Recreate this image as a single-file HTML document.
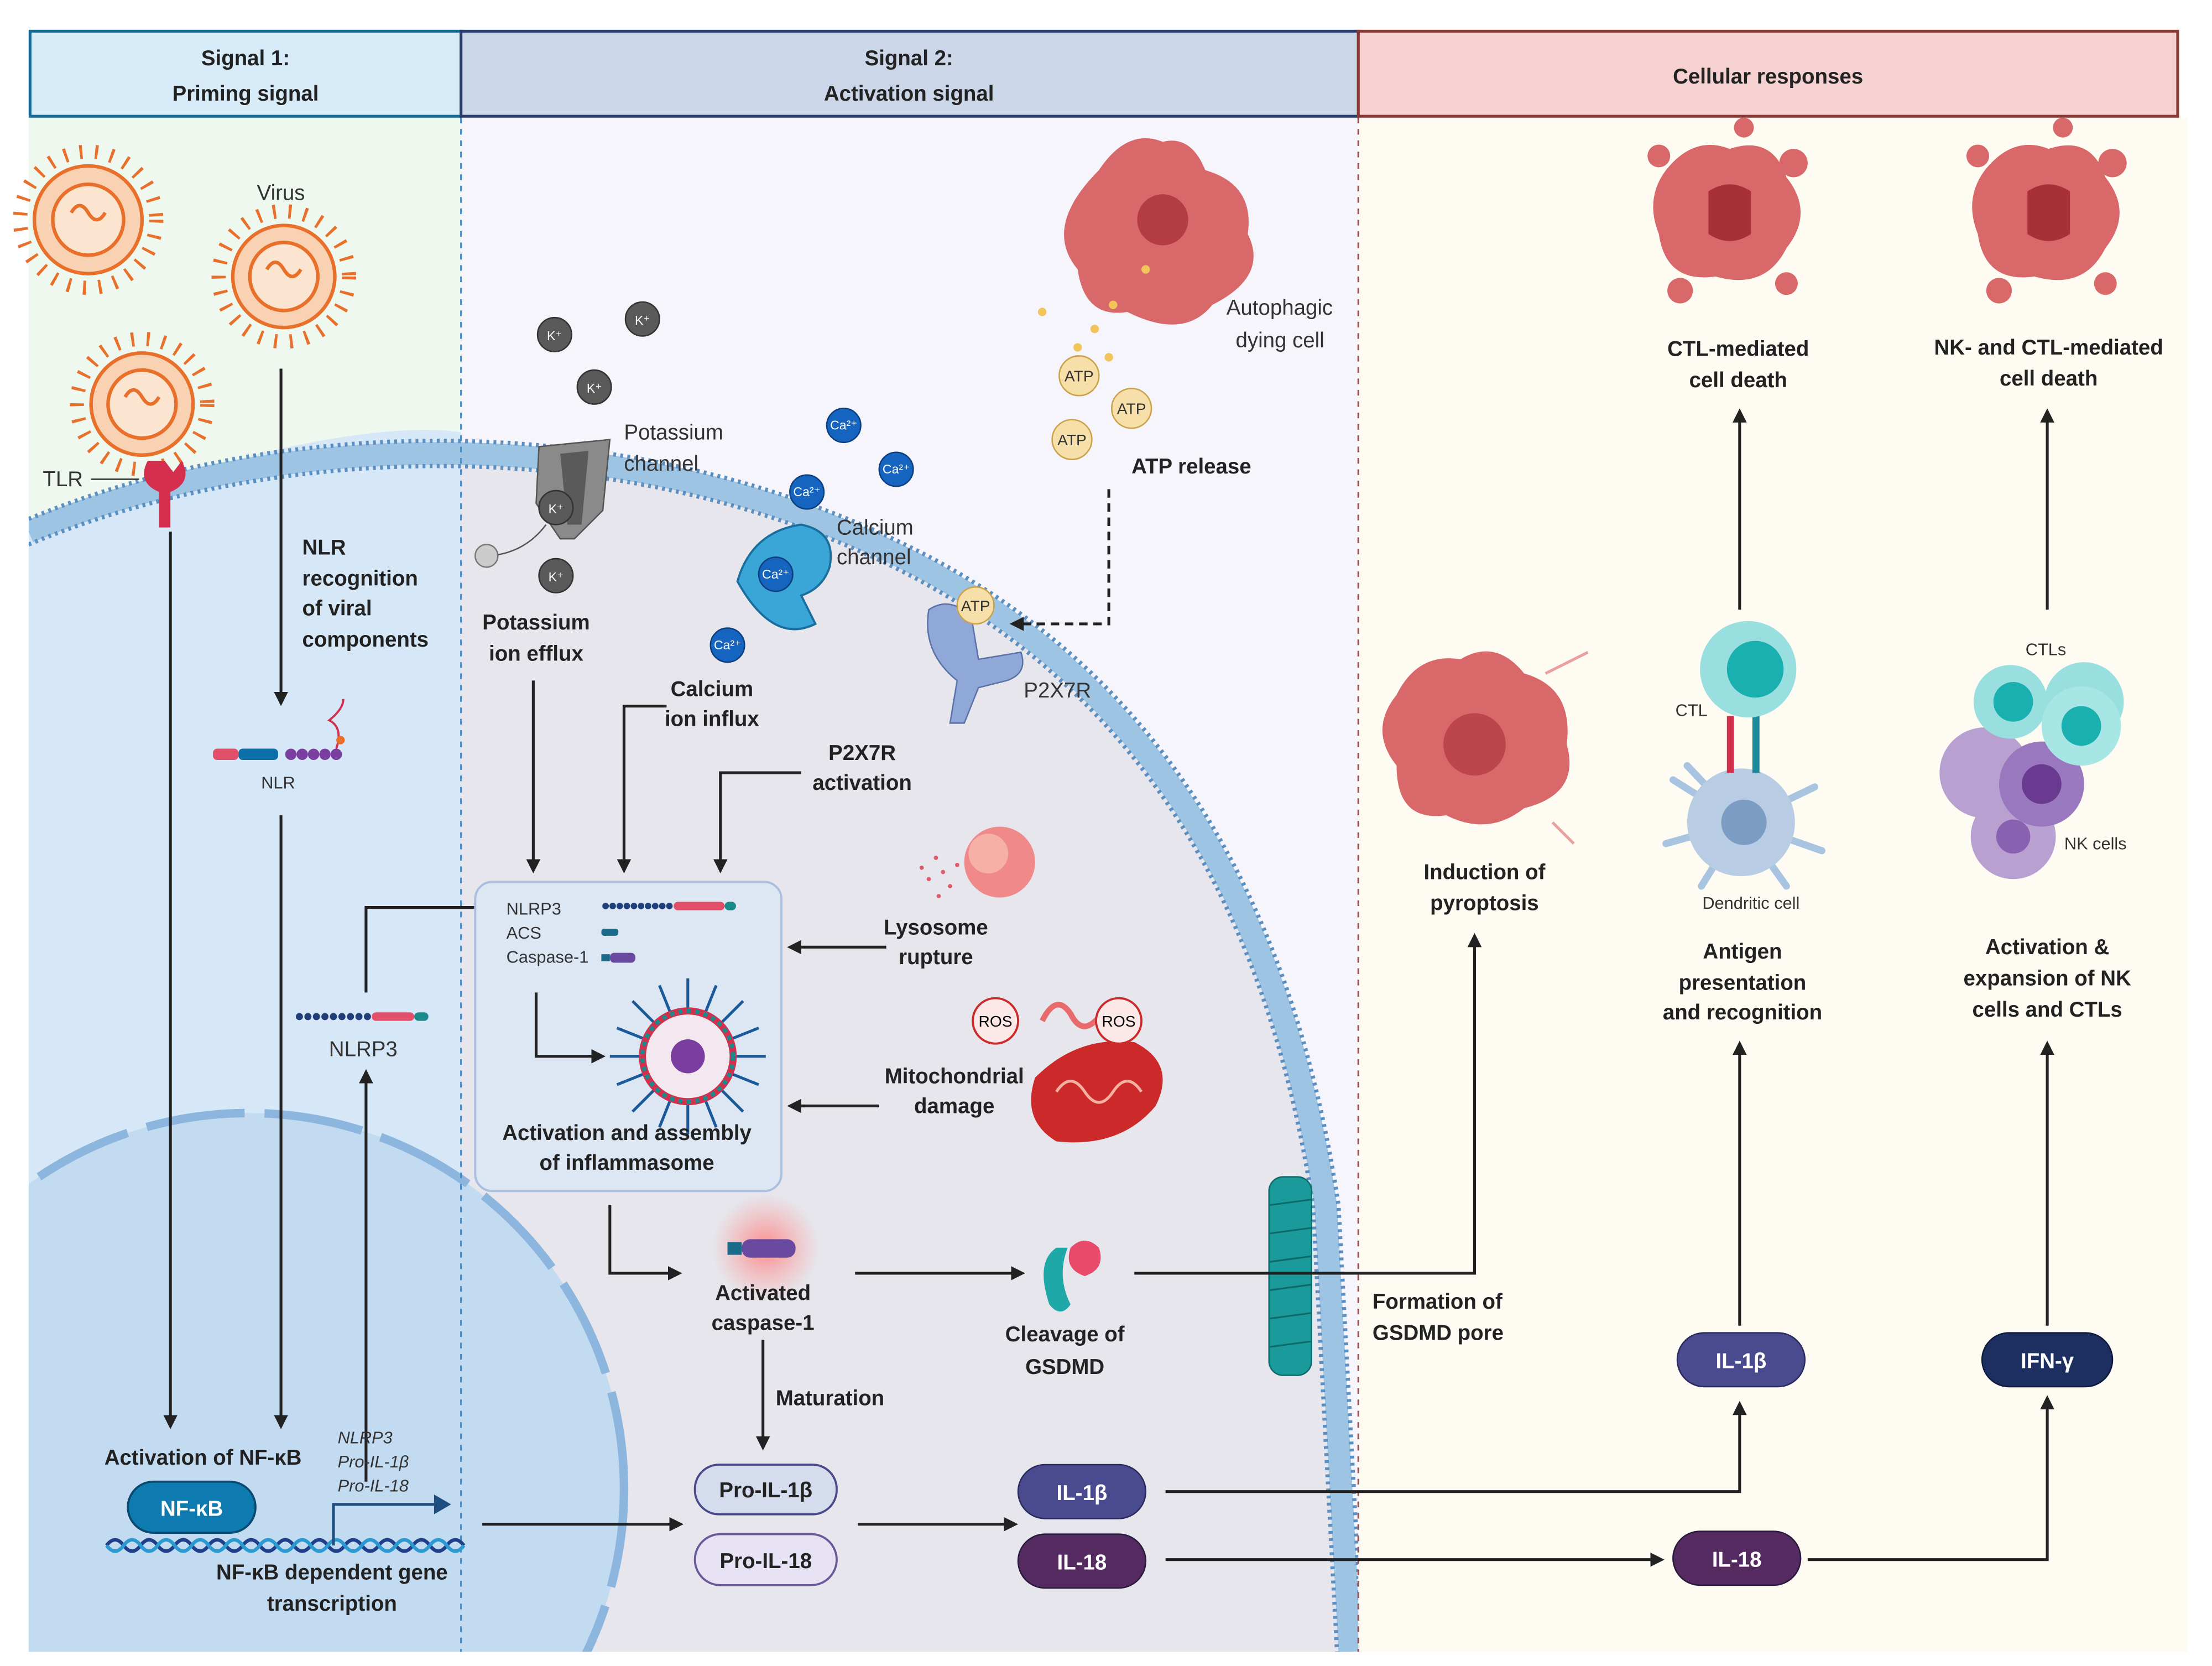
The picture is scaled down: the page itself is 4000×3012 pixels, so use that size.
<!DOCTYPE html>
<html><head><meta charset="utf-8"><style>
html,body{margin:0;padding:0;background:#fff;overflow:hidden;width:4000px;height:3012px}
svg{display:block}
text{font-family:"Liberation Sans",Arial,sans-serif}
.b{font-weight:bold;font-size:15px;fill:#222}
.n{font-size:15px;fill:#333}
.s{font-size:12px;fill:#333}
.c{text-anchor:middle}
.ar{stroke:#222;stroke-width:2;fill:none;marker-end:url(#ah)}
.ln{stroke:#333;stroke-width:1.6;fill:none}
</style></head><body>
<svg width="4000" height="3012" viewBox="0 0 1560 1175" xmlns="http://www.w3.org/2000/svg">
<defs>
<marker id="ah" markerWidth="10" markerHeight="10" refX="8" refY="5" orient="auto" markerUnits="userSpaceOnUse"><path d="M0,0 L10,5 L0,10 z" fill="#222"/></marker>
<radialGradient id="glow"><stop offset="0" stop-color="#ff8080" stop-opacity=".9"/><stop offset="1" stop-color="#ff9999" stop-opacity="0"/></radialGradient>
<clipPath id="p12"><rect x="20" y="83" width="938" height="1082"/></clipPath>
</defs>
<rect width="1560" height="1175" fill="#fff"/>
<rect x="20" y="83" width="305" height="1082" fill="#eef8ef"/>
<rect x="325" y="83" width="633" height="1082" fill="#f6f5fb"/>
<rect x="958" y="83" width="585" height="1082" fill="#fdfbf2"/>
<g clip-path="url(#p12)">
<path d="M20,375 C200,300 450,295 650,400 C800,480 900,620 935,850 L952,1165 L20,1165 Z" fill="#e6e6ec"/>
<path d="M20,375 C200,300 300,300 325,305 L325,1165 L20,1165 Z" fill="#d6e8f7"/>
<circle cx="175" cy="1050" r="265" fill="#c3dbf0"/>
<circle cx="175" cy="1050" r="265" fill="none" stroke="#8db6de" stroke-width="6" stroke-dasharray="70,14"/>
<path d="M20,375 C200,300 450,295 650,400 C800,480 900,620 935,850 L952,1165" fill="none" stroke="#9ec4e3" stroke-width="16"/>
<path d="M20,366 C200,291 450,286 654,392 C808,473 909,618 944,850 L961,1165" fill="none" stroke="#5b8fc2" stroke-width="3" stroke-dasharray="2,3"/>
<path d="M20,384 C200,309 450,304 646,408 C792,487 891,622 926,850 L943,1165" fill="none" stroke="#5b8fc2" stroke-width="3" stroke-dasharray="2,3"/>
</g>
<line x1="325" y1="83" x2="325" y2="1165" stroke="#4a8cc0" stroke-width="1.2" stroke-dasharray="4,4"/>
<line x1="958" y1="83" x2="958" y2="1165" stroke="#a84848" stroke-width="1.2" stroke-dasharray="4,4"/>
<rect x="21" y="22" width="304" height="60" fill="#d8ebf9" stroke="#186a95" stroke-width="2"/>
<rect x="325" y="22" width="633" height="60" fill="#cbd6e8" stroke="#2b3e6b" stroke-width="2"/>
<rect x="958" y="22" width="578" height="60" fill="#f5d1d1" stroke="#8a3a36" stroke-width="2"/>
<text x="173" y="46" class="b c" font-size="17">Signal 1:</text>
<text x="173" y="71" class="b c" font-size="17">Priming signal</text>
<text x="641" y="46" class="b c" font-size="17">Signal 2:</text>
<text x="641" y="71" class="b c" font-size="17">Activation signal</text>
<text x="1247" y="59" class="b c" font-size="17">Cellular responses</text>
<g stroke="#e8702a" stroke-width="2.5" fill="#f8d2b2">
<g transform="translate(62,155)"><circle r="48" fill="none" stroke-width="10" stroke-dasharray="2,9"/><circle r="38"/><circle r="25" fill="#fbe4d0"/><path d="M-12,-5 q6,-10 12,0 t12,0" fill="none"/></g>
<g transform="translate(200,195)"><circle r="46" fill="none" stroke-width="10" stroke-dasharray="2,9"/><circle r="36"/><circle r="24" fill="#fbe4d0"/><path d="M-12,-5 q6,-10 12,0 t12,0" fill="none"/></g>
<g transform="translate(100,285)"><circle r="46" fill="none" stroke-width="10" stroke-dasharray="2,9"/><circle r="36"/><circle r="24" fill="#fbe4d0"/><path d="M-12,-5 q6,-10 12,0 t12,0" fill="none"/></g>
</g>
<text x="198" y="141" class="n c">Virus</text>
<path d="M104,325 q-8,15 8,22 l0,25 l8,0 l0,-25 q16,-7 8,-22 l-6,8 l-6,-8 z" fill="#d4304e"/>
<text x="30" y="343" class="n">TLR</text><line x1="64" y1="338" x2="98" y2="338" stroke="#333"/>
<line x1="120" y1="375" x2="120" y2="1006" class="ar"/>
<line x1="198" y1="260" x2="198" y2="496" class="ar"/>
<text x="213" y="391" class="b">NLR</text><text x="213" y="413" class="b">recognition</text><text x="213" y="434" class="b">of viral</text><text x="213" y="456" class="b">components</text>
<rect x="150" y="528" width="18" height="8" fill="#e2506a" rx="3"/><rect x="168" y="528" width="28" height="8" fill="#0c6fa8" rx="3"/>
<g fill="#7a3ea0"><circle cx="205" cy="532" r="4"/><circle cx="213" cy="532" r="4"/><circle cx="221" cy="532" r="4"/><circle cx="229" cy="532" r="4"/><circle cx="237" cy="532" r="4"/></g>
<path d="M237,528 q5,-15 -5,-20 q10,-8 10,-15" stroke="#d4304e" fill="none" stroke-width="1.5"/><circle cx="240" cy="522" r="3" fill="#e8702a"/>
<text x="196" y="556" class="s c" font-size="13">NLR</text>
<line x1="198" y1="575" x2="198" y2="1006" class="ar"/>
<g fill="#1f3f7a"><circle cx="211" cy="717" r="2.5"/><circle cx="217" cy="717" r="2.5"/><circle cx="223" cy="717" r="2.5"/><circle cx="229" cy="717" r="2.5"/><circle cx="235" cy="717" r="2.5"/><circle cx="241" cy="717" r="2.5"/><circle cx="247" cy="717" r="2.5"/><circle cx="253" cy="717" r="2.5"/><circle cx="259" cy="717" r="2.5"/></g>
<rect x="262" y="714" width="30" height="6" fill="#e2506a" rx="3"/><rect x="292" y="714" width="10" height="6" fill="#1a8a8a" rx="3"/>
<text x="256" y="745" class="n c" font-size="14">NLRP3</text>
<line x1="258" y1="1045" x2="258" y2="756" class="ar" stroke-width="1.5"/>
<path d="M258,700 L258,640 L352,640" class="ar" stroke-width="1.5"/>
<text x="143" y="1033" class="b c">Activation of NF-κB</text>
<rect x="90" y="1045" width="90" height="36" rx="18" fill="#0e7bb0" stroke="#0a4a70" stroke-width="1.5"/>
<text x="135" y="1069" class="b c" style="fill:#fff">NF-κB</text>
<path d="M75,1090 q6,-8 12,0 t12,0 t12,0 t12,0 t12,0 t12,0 t12,0 t12,0 t12,0 t12,0 t12,0 t12,0 t12,0 t12,0 t12,0 t12,0 t12,0 t12,0 t12,0 t12,0 t12,0" stroke="#1f3f8a" fill="none" stroke-width="2.5"/>
<path d="M75,1090 q6,8 12,0 t12,0 t12,0 t12,0 t12,0 t12,0 t12,0 t12,0 t12,0 t12,0 t12,0 t12,0 t12,0 t12,0 t12,0 t12,0 t12,0 t12,0 t12,0 t12,0 t12,0" stroke="#2a9ad0" fill="none" stroke-width="2.5"/>
<path d="M235,1090 L235,1061 L308,1061" stroke="#1f4f80" stroke-width="2" fill="none"/><path d="M306,1054 L318,1061 L306,1068 z" fill="#1f4f80"/>
<text x="238" y="1018" class="s" font-style="italic">NLRP3</text><text x="238" y="1035" class="s" font-style="italic">Pro-IL-1β</text><text x="238" y="1052" class="s" font-style="italic">Pro-IL-18</text>
<text x="234" y="1114" class="b c">NF-κB dependent gene</text><text x="234" y="1136" class="b c">transcription</text>
<line x1="340" y1="1075" x2="480" y2="1075" class="ar"/>
<path d="M380,315 L430,310 L425,360 L405,380 L395,380 L378,355 Z" fill="#8a8a8a" stroke="#555"/>
<path d="M395,320 L415,318 L410,370 L400,370 Z" fill="#5a5a5a"/>
<path d="M385,370 q-15,20 -40,22" stroke="#555" fill="none"/><circle cx="343" cy="392" r="8" fill="#ccc" stroke="#777"/>
<g fill="#5a5a5a" stroke="#333"><circle cx="391" cy="236" r="12"/><circle cx="453" cy="225" r="12"/><circle cx="419" cy="273" r="12"/><circle cx="392" cy="358" r="12"/><circle cx="392" cy="406" r="12"/></g>
<g style="font-size:9px"><text x="391" y="240" class="c" style="fill:#fff">K⁺</text><text x="453" y="229" class="c" style="fill:#fff">K⁺</text><text x="419" y="277" class="c" style="fill:#fff">K⁺</text><text x="392" y="362" class="c" style="fill:#fff">K⁺</text><text x="392" y="410" class="c" style="fill:#fff">K⁺</text></g>
<text x="440" y="310" class="n">Potassium</text><text x="440" y="332" class="n">channel</text>
<text x="378" y="444" class="b c">Potassium</text><text x="378" y="466" class="b c">ion efflux</text>
<line x1="376" y1="480" x2="376" y2="614" class="ar"/>
<path d="M520,410 q10,-35 45,-40 q25,5 20,30 q-5,15 -20,20 l10,20 q-30,15 -55,-30 z" fill="#3aa6d8" stroke="#1a6e9e" stroke-width="1.5"/>
<g fill="#1565c0" stroke="#0d3f80"><circle cx="595" cy="300" r="12"/><circle cx="632" cy="331" r="12"/><circle cx="569" cy="347" r="12"/><circle cx="547" cy="405" r="12"/><circle cx="513" cy="455" r="12"/></g>
<g style="font-size:9px"><text x="595" y="303" class="c" style="fill:#fff">Ca²⁺</text><text x="632" y="334" class="c" style="fill:#fff">Ca²⁺</text><text x="569" y="350" class="c" style="fill:#fff">Ca²⁺</text><text x="547" y="408" class="c" style="fill:#fff">Ca²⁺</text><text x="513" y="458" class="c" style="fill:#fff">Ca²⁺</text></g>
<text x="590" y="377" class="n">Calcium</text><text x="590" y="398" class="n">channel</text>
<text x="502" y="491" class="b c">Calcium</text><text x="502" y="512" class="b c">ion influx</text>
<path d="M470,498 L440,498 L440,614" class="ar"/>
<path d="M655,430 q15,-10 30,5 l5,30 l30,-5 q5,15 -10,20 l-20,5 l-10,25 l-10,0 l5,-30 q-25,-20 -20,-50 z" fill="#8fa8d8" stroke="#5a72a8"/>
<circle cx="688" cy="427" r="13" fill="#f6dfa8" stroke="#c9a24a"/><text x="688" y="431" class="c" style="font-size:11px;fill:#333">ATP</text>
<text x="722" y="492" class="n" font-size="14">P2X7R</text>
<text x="608" y="536" class="b c">P2X7R</text><text x="608" y="557" class="b c">activation</text>
<path d="M565,545 L508,545 L508,614" class="ar"/>
<path d="M775,120 q20,-30 45,-20 q20,-5 30,20 q35,10 30,45 q15,30 -25,50 q-20,25 -60,5 q-30,5 -35,-30 q-25,-30 15,-70 z" fill="#d9686a"/>
<circle cx="820" cy="155" r="18" fill="#b43d45"/>
<g fill="#f2c45a"><circle cx="735" cy="220" r="3"/><circle cx="772" cy="232" r="3"/><circle cx="785" cy="215" r="3"/><circle cx="760" cy="245" r="3"/><circle cx="782" cy="252" r="3"/><circle cx="808" cy="190" r="3"/></g>
<text x="940" y="222" class="n" text-anchor="end">Autophagic</text><text x="934" y="245" class="n" text-anchor="end">dying cell</text>
<g fill="#f6dfa8" stroke="#c9a24a"><circle cx="761" cy="265" r="14"/><circle cx="798" cy="288" r="14"/><circle cx="756" cy="310" r="14"/></g>
<g style="font-size:11px;fill:#333"><text x="761" y="269" class="c">ATP</text><text x="798" y="292" class="c">ATP</text><text x="756" y="314" class="c">ATP</text></g>
<text x="798" y="334" class="b">ATP release</text>
<path d="M782,345 L782,440 L714,440" class="ar" stroke-dasharray="6,4"/>
<rect x="335" y="622" width="216" height="218" rx="12" fill="#dde6f3" stroke="#a9bfdd" stroke-width="1.5"/>
<text x="357" y="645" class="s">NLRP3</text><text x="357" y="662" class="s">ACS</text><text x="357" y="679" class="s">Caspase-1</text>
<g fill="#1f3f7a"><circle cx="427" cy="639" r="2.3"/><circle cx="432" cy="639" r="2.3"/><circle cx="437" cy="639" r="2.3"/><circle cx="442" cy="639" r="2.3"/><circle cx="447" cy="639" r="2.3"/><circle cx="452" cy="639" r="2.3"/><circle cx="457" cy="639" r="2.3"/><circle cx="462" cy="639" r="2.3"/><circle cx="467" cy="639" r="2.3"/><circle cx="472" cy="639" r="2.3"/></g>
<rect x="475" y="636" width="36" height="6" rx="3" fill="#e2506a"/><rect x="511" y="636" width="8" height="6" rx="3" fill="#1a8a8a"/>
<rect x="424" y="655" width="12" height="5" rx="2" fill="#1a6a8a"/><rect x="424" y="673" width="6" height="5" fill="#1a6a8a"/><rect x="430" y="672" width="18" height="7" rx="3" fill="#6a4aa0"/>
<g stroke="#1a5a9a" stroke-width="2"><line x1="485" y1="690" x2="485" y2="800"/><line x1="430" y1="745" x2="540" y2="745"/><line x1="446" y1="706" x2="524" y2="784"/><line x1="446" y1="784" x2="524" y2="706"/><line x1="465" y1="695" x2="505" y2="795"/><line x1="505" y1="695" x2="465" y2="795"/><line x1="435" y1="725" x2="535" y2="765"/><line x1="435" y1="765" x2="535" y2="725"/></g>
<circle cx="485" cy="745" r="32" fill="#f3e8ef" stroke="#d4304e" stroke-width="5"/><circle cx="485" cy="745" r="32" fill="none" stroke="#1a8a8a" stroke-width="3" stroke-dasharray="3,3"/>
<circle cx="485" cy="745" r="12" fill="#7a3ea0"/>
<path d="M378,700 L378,745 L425,745" class="ar"/>
<text x="442" y="804" class="b c">Activation and assembly</text><text x="442" y="825" class="b c">of inflammasome</text>
<circle cx="705" cy="608" r="25" fill="#f08a8a"/><circle cx="697" cy="602" r="14" fill="#f7b0a8"/>
<g fill="#e05a6a"><circle cx="660" cy="605" r="1.5"/><circle cx="665" cy="615" r="1.5"/><circle cx="655" cy="620" r="1.5"/><circle cx="670" cy="625" r="1.5"/><circle cx="650" cy="612" r="1.5"/><circle cx="662" cy="632" r="1.5"/><circle cx="675" cy="610" r="1.5"/></g>
<text x="660" y="659" class="b c">Lysosome</text><text x="660" y="680" class="b c">rupture</text>
<line x1="625" y1="668" x2="557" y2="668" class="ar"/>
<path d="M730,760 q30,-30 70,-25 q30,15 15,45 q-25,30 -70,25 q-25,-15 -15,-45 z" fill="#cc2a2a"/>
<path d="M745,770 q10,-15 20,0 q10,15 20,0 q10,-15 20,0" stroke="#f5b0a0" fill="none" stroke-width="2"/>
<path d="M735,720 q10,-20 20,-5 q10,20 25,-5" stroke="#e86a6a" fill="none" stroke-width="4"/>
<g fill="#fde8e8" stroke="#cc2a2a" stroke-width="1.5"><circle cx="702" cy="720" r="16"/><circle cx="789" cy="720" r="16"/></g>
<text x="702" y="724" class="c" style="font-size:11px">ROS</text><text x="789" y="724" class="c" style="font-size:11px">ROS</text>
<text x="673" y="764" class="b c">Mitochondrial</text><text x="673" y="785" class="b c">damage</text>
<line x1="620" y1="780" x2="557" y2="780" class="ar"/>
<circle cx="540" cy="880" r="38" fill="url(#glow)"/>
<rect x="513" y="876" width="10" height="9" fill="#1a6a8a"/><rect x="523" y="874" width="38" height="13" rx="6" fill="#6a4aa0"/>
<path d="M430,850 L430,898 L479,898" class="ar"/>
<text x="538" y="917" class="b c">Activated</text><text x="538" y="938" class="b c">caspase-1</text>
<line x1="538" y1="945" x2="538" y2="1021" class="ar" stroke-width="1.5"/>
<text x="547" y="991" class="b">Maturation</text>
<line x1="603" y1="898" x2="721" y2="898" class="ar"/>
<path d="M745,880 q-15,10 -5,40 q8,10 15,0 q-10,-20 -2,-40 z" fill="#1fa8a8"/><path d="M755,880 q10,-10 20,0 q5,15 -10,20 q-15,-5 -10,-20 z" fill="#e84a6a"/>
<text x="751" y="946" class="b c">Cleavage of</text><text x="751" y="969" class="b c">GSDMD</text>
<rect x="895" y="830" width="30" height="140" rx="10" fill="#1a9a9a" stroke="#0d6a6a"/>
<g stroke="#0d6a6a" stroke-width="1.2"><line x1="895" y1="850" x2="925" y2="846"/><line x1="895" y1="870" x2="925" y2="866"/><line x1="895" y1="890" x2="925" y2="886"/><line x1="895" y1="910" x2="925" y2="906"/><line x1="895" y1="930" x2="925" y2="926"/><line x1="895" y1="950" x2="925" y2="946"/></g>
<path d="M800,898 L1040,898 L1040,660" class="ar" stroke-width="1.8"/>
<text x="968" y="923" class="b">Formation of</text><text x="968" y="945" class="b">GSDMD pore</text>
<path d="M985,490 q15,-30 45,-25 q25,-15 45,10 q35,10 30,50 q10,35 -30,45 q-25,20 -55,5 q-35,5 -35,-35 q-20,-25 0,-50 z" fill="#d9686a"/>
<circle cx="1040" cy="525" r="22" fill="#b43d45" opacity=".8"/>
<path d="M1090,475 l30,-15 M1095,580 l15,15" stroke="#e8a0a0" stroke-width="2"/>
<text x="1047" y="620" class="b c">Induction of</text><text x="1047" y="642" class="b c">pyroptosis</text>
<rect x="490" y="1033" width="100" height="35" rx="17" fill="#d5dcee" stroke="#4a4a8a" stroke-width="1.5"/>
<rect x="490" y="1082" width="100" height="36" rx="18" fill="#e8e2f5" stroke="#6a5a9a" stroke-width="1.5"/>
<text x="540" y="1056" class="b c">Pro-IL-1β</text><text x="540" y="1106" class="b c">Pro-IL-18</text>
<line x1="605" y1="1075" x2="716" y2="1075" class="ar"/>
<rect x="718" y="1033" width="90" height="38" rx="19" fill="#4a4a8e" stroke="#2a2a5e"/>
<rect x="718" y="1082" width="90" height="38" rx="19" fill="#552a60" stroke="#2a1a3e"/>
<text x="763" y="1058" class="b c" style="fill:#fff">IL-1β</text><text x="763" y="1107" class="b c" style="fill:#fff">IL-18</text>
<path d="M822,1052 L1227,1052 L1227,990" class="ar" stroke-width="1.8"/>
<line x1="822" y1="1100" x2="1172" y2="1100" class="ar"/>
<rect x="1180" y="1080" width="90" height="38" rx="19" fill="#552a60" stroke="#2a1a3e"/>
<text x="1225" y="1105" class="b c" style="fill:#fff">IL-18</text>
<path d="M1275,1100 L1444,1100 L1444,986" class="ar" stroke-width="1.8"/>
<rect x="1183" y="940" width="90" height="38" rx="19" fill="#4a4a8e" stroke="#2a2a5e"/>
<text x="1228" y="965" class="b c" style="fill:#fff">IL-1β</text>
<rect x="1398" y="940" width="92" height="38" rx="19" fill="#1d2f60" stroke="#0d1a3e"/>
<text x="1444" y="965" class="b c" style="fill:#fff">IFN-γ</text>
<line x1="1227" y1="935" x2="1227" y2="736" class="ar" stroke-width="1.5"/>
<line x1="1444" y1="935" x2="1444" y2="736" class="ar" stroke-width="1.5"/>
<text x="1229" y="676" class="b c">Antigen</text><text x="1229" y="698" class="b c">presentation</text><text x="1229" y="719" class="b c">and recognition</text>
<text x="1444" y="673" class="b c">Activation &amp;</text><text x="1444" y="695" class="b c">expansion of NK</text><text x="1444" y="717" class="b c">cells and CTLs</text>
<g stroke="#a8c4e0" stroke-width="5" stroke-linecap="round"><line x1="1228" y1="580" x2="1180" y2="550"/><line x1="1228" y1="580" x2="1175" y2="595"/><line x1="1228" y1="580" x2="1280" y2="555"/><line x1="1228" y1="580" x2="1285" y2="600"/><line x1="1228" y1="580" x2="1200" y2="625"/><line x1="1228" y1="580" x2="1260" y2="625"/><line x1="1228" y1="580" x2="1190" y2="540"/></g>
<circle cx="1228" cy="580" r="38" fill="#b8cce4"/><circle cx="1230" cy="580" r="16" fill="#7c9cc4"/>
<rect x="1218" y="505" width="5" height="40" fill="#d4304e"/><rect x="1236" y="505" width="5" height="40" fill="#1a8a9a"/>
<circle cx="1233" cy="472" r="34" fill="#9adfe0"/><circle cx="1238" cy="472" r="20" fill="#1ab0b0"/>
<text x="1193" y="505" class="s c">CTL</text><text x="1235" y="641" class="s c">Dendritic cell</text>
<circle cx="1400" cy="545" r="32" fill="#b8a0d0"/><circle cx="1420" cy="590" r="30" fill="#b8a0d0"/><circle cx="1440" cy="553" r="30" fill="#9a78c0"/>
<circle cx="1440" cy="553" r="14" fill="#6a3a90"/><circle cx="1420" cy="590" r="12" fill="#8a60b0"/>
<circle cx="1418" cy="495" r="26" fill="#9adfe0"/><circle cx="1470" cy="495" r="28" fill="#9adfe0"/><circle cx="1468" cy="512" r="28" fill="#a8e6e6"/>
<circle cx="1420" cy="495" r="14" fill="#1ab0b0"/><circle cx="1468" cy="512" r="14" fill="#1ab0b0"/>
<text x="1443" y="462" class="s c">CTLs</text><text x="1478" y="599" class="s c">NK cells</text>
<line x1="1227" y1="430" x2="1227" y2="290" class="ar" stroke-width="1.5"/>
<line x1="1444" y1="430" x2="1444" y2="290" class="ar" stroke-width="1.5"/>
<text x="1226" y="251" class="b c">CTL-mediated</text><text x="1226" y="273" class="b c">cell death</text>
<text x="1445" y="250" class="b c">NK- and CTL-mediated</text><text x="1445" y="272" class="b c">cell death</text>
<g fill="#d9686a">
<path d="M1175,120 q20,-25 45,-15 q30,-10 40,20 q20,25 0,50 q-15,30 -50,20 q-35,5 -40,-30 q-10,-25 5,-45 z"/>
<circle cx="1170" cy="110" r="8"/><circle cx="1265" cy="115" r="10"/><circle cx="1185" cy="205" r="9"/><circle cx="1260" cy="200" r="8"/><circle cx="1230" cy="90" r="7"/>
<path d="M1400,120 q20,-25 45,-15 q30,-10 40,20 q20,25 0,50 q-15,30 -50,20 q-35,5 -40,-30 q-10,-25 5,-45 z"/>
<circle cx="1395" cy="110" r="8"/><circle cx="1490" cy="115" r="10"/><circle cx="1410" cy="205" r="9"/><circle cx="1485" cy="200" r="8"/><circle cx="1455" cy="90" r="7"/>
</g>
<path d="M1205,135 q15,-10 30,0 l0,30 q-15,10 -30,0 z" fill="#a83038"/><path d="M1430,135 q15,-10 30,0 l0,30 q-15,10 -30,0 z" fill="#a83038"/>
</svg>
</body></html>
